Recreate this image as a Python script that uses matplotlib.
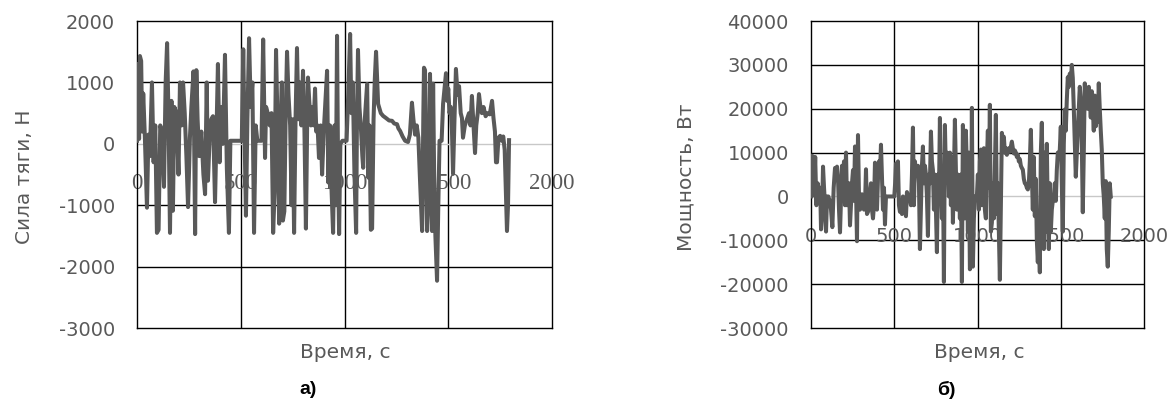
import matplotlib
matplotlib.use("Agg")
from matplotlib import pyplot as plt

# --- data ---
time_a = [0, 5, 10, 14, 20, 25, 30, 38, 48, 55, 62, 72, 80, 88, 96, 104, 112, 120, 130, 138,
          145, 152, 159, 166, 173, 180, 190, 200, 207, 215, 222, 230, 238, 246, 255, 262, 272, 280, 286, 292,
          300, 310, 320, 328, 336, 342, 350, 358, 366, 376, 383, 390, 398, 406, 414, 424, 433, 443, 450, 500,
          505, 512, 518, 525, 532, 540, 548, 556, 564, 572, 580, 600, 608, 617, 622, 630, 640, 648, 656, 663,
          670, 678, 685, 692, 698, 703, 710, 716, 723, 730, 738, 745, 750, 757, 764, 771, 778, 785, 792, 800,
          807, 814, 820, 824, 830, 838, 845, 851, 858, 864, 870, 877, 885, 892, 900, 908, 916, 922, 930, 937,
          945, 952, 958, 964, 969, 974, 980, 990, 1010, 1018, 1027, 1033, 1040, 1048, 1056, 1060, 1065, 1072, 1080, 1086,
          1090, 1096, 1102, 1109, 1115, 1120, 1127, 1133, 1140, 1146, 1152, 1162, 1175, 1186, 1200, 1215, 1229, 1240, 1253, 1260,
          1268, 1280, 1292, 1306, 1315, 1325, 1332, 1340, 1348, 1356, 1364, 1374, 1380, 1383, 1388, 1393, 1398, 1404, 1412, 1417,
          1422, 1427, 1432, 1438, 1446, 1452, 1458, 1468, 1475, 1482, 1489, 1495, 1500, 1506, 1512, 1518, 1523, 1530, 1537, 1545,
          1552, 1560, 1566, 1571, 1580, 1590, 1600, 1607, 1614, 1620, 1629, 1635, 1642, 1648, 1655, 1662, 1670, 1680, 1690, 1700,
          1711, 1718, 1725, 1730, 1735, 1742, 1750, 1758, 1765, 1772, 1778, 1783, 1788, 1793]
force = [50, 1300, 80, 1430, 1350, 200, 820, 100, -1040, 150, -200, 1000, -300, 300, -1450, -1400, 300, 200, -700, 1000,
         1640, 400, -1450, 700, -1090, 600, 500, -500, 1000, 300, 1000, 500, -200, -1030, 100, 600, 1180, -1470, 1200, 400,
         -200, 200, -500, -820, 1000, -600, 100, 400, 450, -950, 200, 1300, -300, 600, 0, 1450, -400, -1450, 50, 50,
         50, 1540, 200, -1170, 400, 1720, 600, 1000, -1450, 300, 50, 50, 1700, -230, 600, 500, 300, 500, -1450, -800,
         1530, 200, -1300, 300, 1000, -1250, -1100, 400, 1500, 800, 300, -1000, 400, -1450, 400, 1560, 400, 1000, 300, 1190,
         200, -1380, 300, 1080, 700, 300, 600, 300, 900, 200, 300, -230, 300, -500, 200, 700, 1190, -630, 300, -700,
         -1450, 300, -1000, 1760, -400, -1470, 0, 50, 50, 800, 1790, 500, 1000, -500, -1450, 400, 1530, 600, 200, -200,
         -390, 300, 600, 975, -550, 300, -1400, -1380, 400, 1050, 1500, 650, 500, 455, 420, 380, 375, 330, 320, 250,
         210, 120, 50, 30, 150, 670, 400, 150, 300, 100, -600, -1420, 500, 1240, 1200, -500, -1420, -1000, 1140, 200,
         -1420, 980, -500, -1500, -2230, -1000, 50, 50, 650, 900, 1150, 700, 900, 500, 600, 200, -490, 400, 1220, 800,
         940, 500, 420, 100, 300, 400, 500, 300, 780, 400, -150, 300, 500, 810, 600, 500, 600, 450, 500, 480,
         700, 420, 200, -300, -300, 100, 130, 50, 120, -100, -800, -1420, -1000, 60]

time_b = [0, 5, 12, 18, 25, 32, 40, 48, 55, 60, 66, 72, 78, 84, 90, 96, 104, 112, 120, 128,
          136, 144, 150, 156, 162, 168, 174, 180, 186, 192, 198, 204, 210, 216, 222, 228, 234, 240, 246, 252,
          258, 264, 270, 276, 282, 288, 294, 300, 306, 312, 318, 324, 330, 336, 342, 348, 354, 360, 366, 372,
          378, 384, 390, 396, 402, 408, 414, 420, 426, 432, 438, 444, 450, 500, 505, 510, 516, 522, 528, 534,
          540, 546, 552, 560, 570, 576, 584, 592, 600, 606, 612, 618, 624, 630, 636, 642, 648, 654, 660, 666,
          672, 678, 684, 690, 696, 702, 708, 714, 720, 726, 732, 738, 744, 750, 756, 762, 768, 774, 780, 786,
          792, 798, 804, 810, 816, 822, 828, 834, 840, 846, 852, 858, 864, 870, 876, 882, 888, 894, 900, 906,
          912, 918, 924, 930, 936, 942, 948, 954, 960, 966, 972, 978, 984, 996, 1002, 1008, 1014, 1020, 1026, 1032,
          1038, 1044, 1050, 1056, 1062, 1068, 1074, 1080, 1086, 1092, 1098, 1104, 1110, 1116, 1122, 1128, 1134, 1140, 1146, 1152,
          1158, 1164, 1170, 1176, 1182, 1188, 1194, 1200, 1206, 1212, 1218, 1224, 1230, 1236, 1242, 1248, 1254, 1260, 1266, 1272,
          1278, 1284, 1290, 1296, 1302, 1308, 1314, 1320, 1326, 1332, 1338, 1344, 1350, 1356, 1362, 1368, 1374, 1380, 1386, 1392,
          1398, 1404, 1410, 1416, 1422, 1428, 1434, 1440, 1446, 1452, 1458, 1464, 1470, 1476, 1482, 1488, 1494, 1500, 1506, 1512,
          1518, 1524, 1530, 1536, 1542, 1548, 1554, 1560, 1566, 1572, 1578, 1584, 1590, 1596, 1602, 1608, 1614, 1620, 1626, 1632,
          1638, 1644, 1650, 1656, 1662, 1668, 1674, 1680, 1686, 1692, 1698, 1704, 1710, 1716, 1722, 1728, 1734, 1740, 1746, 1752,
          1758, 1764, 1770, 1776, 1782, 1788, 1794, 1800]
power = [0, 9300, 9100, 200, 9000, -2000, 3000, -1000, 2000, -7500, -4000, 6800, 2000, -2000, -8000, 0, 0, -1000, -3000, -7000,
         2000, 6500, 6000, 6800, 4000, -3000, -8200, -1000, 7000, 4000, 8000, -2000, 10000, -2000, 2000, 3000, -6600, -2000, 3000, 6000,
         -1000, 11400, 2000, -10200, 14000, 0, -3000, -2000, 500, -1500, -3000, -2000, 6200, -4000, -3500, -2000, 1000, 3000, -3000, -5000,
         -2000, 7700, 3000, -3000, 4000, 8000, 5000, 11800, 4000, -3000, 2000, -6400, 0, 0, 3000, 7500, 3000, 8000, -2000, -3500,
         -1000, -4000, 0, -1000, -4500, 1000, 0, 0, -2000, 5000, 15700, -2000, 8000, 5000, 6000, 7000, 3000, -12000, -3000, 7000,
         11400, 3000, 7000, 5000, 0, -9000, 5000, 3000, 14800, 8000, 6000, -3000, 5000, -3000, -12700, 5000, 0, 17900, 3000, -5000,
         6000, -19500, 16300, 5000, 10000, 8000, 0, 10000, -2000, 9000, -6000, 5000, 17500, 6000, -3000, 5000, 4000, -5000, 5000, -19500,
         16300, 3000, -5000, 15000, 6000, -8000, 10000, -16600, -15000, 20200, -16000, -5000, 0, 0, 5000, -3000, 8000, 10700, -2000, 4000,
         11000, -3000, -5000, 8000, 15000, 2000, 20900, -8000, -6000, 3000, -5000, 6000, 18600, -4000, 3000, -8000, -19000, -3000, 14500, 13000,
         13600, 10000, 11000, 9500, 10500, 11000, 10200, 11400, 12500, 11000, 9800, 10500, 10000, 9000, 9500, 8000, 8500, 7000, 6500, 6100,
         4000, 3000, 2800, 2000, 1600, 3000, 8000, 15200, 5000, -3000, 9000, -4500, 4000, -10000, -15000, -8000, -17300, 10000, 16800, 0,
         -12000, 10000, -8000, 12000, -5000, -12000, 3000, -8000, -3000, -1000, 0, 3000, -1000, 6000, 10000, 9000, 10700, 15900, 3000, -8000,
         12000, 19800, 15000, 22000, 27200, 25000, 28000, 26000, 30000, 27000, 20000, 12000, 4500, 10000, 15000, 20000, 25000, 22000, 12000, -3600,
         10000, 25800, 22000, 24000, 20000, 25000, 22000, 18000, 24000, 20000, 15000, 23000, 16000, 22000, 17000, 25800, 20000, 15000, 10700, 3000,
         0, -5000, 3500, -12000, -16000, -8000, 3000, 0]

x_ticks = [0, 500, 1000, 1500, 2000]
force_ticks = [-3000, -2000, -1000, 0, 1000, 2000]
power_ticks = [-30000, -20000, -10000, 0, 10000, 20000, 30000, 40000]

GRAY = "#595959"
plt.rcParams["font.family"] = ["DejaVu Sans"]

fig = plt.figure(figsize=(11.71, 4.07), dpi=100)
ax_a = fig.add_axes([0.117, 0.194, 0.3544, 0.7543])
ax_b = fig.add_axes([0.6926, 0.194, 0.2844, 0.7543])


def draw_panel(ax, t, v, y_ticks, label_y, tick_family, tick_size):
    ax.plot(t, v, color=GRAY, lw=2.9, zorder=3)
    ax.set_xlim(x_ticks[0], x_ticks[-1])
    ax.set_ylim(y_ticks[0], y_ticks[-1])

    # excel style grid: black lines, light gray zero axis
    for x in x_ticks[1:-1]:
        ax.axvline(x, color="black", lw=1.0, zorder=1)
    for y in y_ticks[1:-1]:
        if y == 0:
            ax.axhline(y, color="#c8c8c8", lw=1.0, zorder=1)
        else:
            ax.axhline(y, color="black", lw=1.0, zorder=1)
    for s in ax.spines.values():
        s.set_color("black")
        s.set_linewidth(1.0)

    ax.set_xticks([])
    ax.set_yticks(y_ticks)
    ax.set_yticklabels([str(y) for y in y_ticks], color=GRAY, fontsize=14)
    ax.tick_params(axis="y", length=0, pad=16)

    # x labels sit next to the zero axis, like excel does
    for x in x_ticks:
        ax.text(x, label_y, str(x), ha="center", va="center", color=GRAY,
                fontsize=tick_size, family=tick_family, clip_on=False, zorder=2)


draw_panel(ax_a, time_a, force, force_ticks, -650, ["Liberation Serif"], 16.5)
draw_panel(ax_b, time_b, power, power_ticks, -9100, ["DejaVu Sans"], 14)

fig.text(0.0205, 0.565, "Сила тяги, Н", rotation=90, ha="center", va="center", color=GRAY, fontsize=14.5)
fig.text(0.586, 0.565, "Мощность, Вт", rotation=90, ha="center", va="center", color=GRAY, fontsize=14.5)
fig.text(0.2946, 0.135, "Время, с", ha="center", va="center", color=GRAY, fontsize=14.5)
fig.text(0.836, 0.135, "Время, с", ha="center", va="center", color=GRAY, fontsize=14.5)
fig.text(0.263, 0.042, "а)", ha="center", va="center", color="black", fontsize=14,
         fontweight="bold", family=["Liberation Sans"])
fig.text(0.808, 0.042, "б)", ha="center", va="center", color="black", fontsize=14,
         fontweight="bold", family=["Liberation Sans"])

fig.savefig("out.png", dpi=100)
